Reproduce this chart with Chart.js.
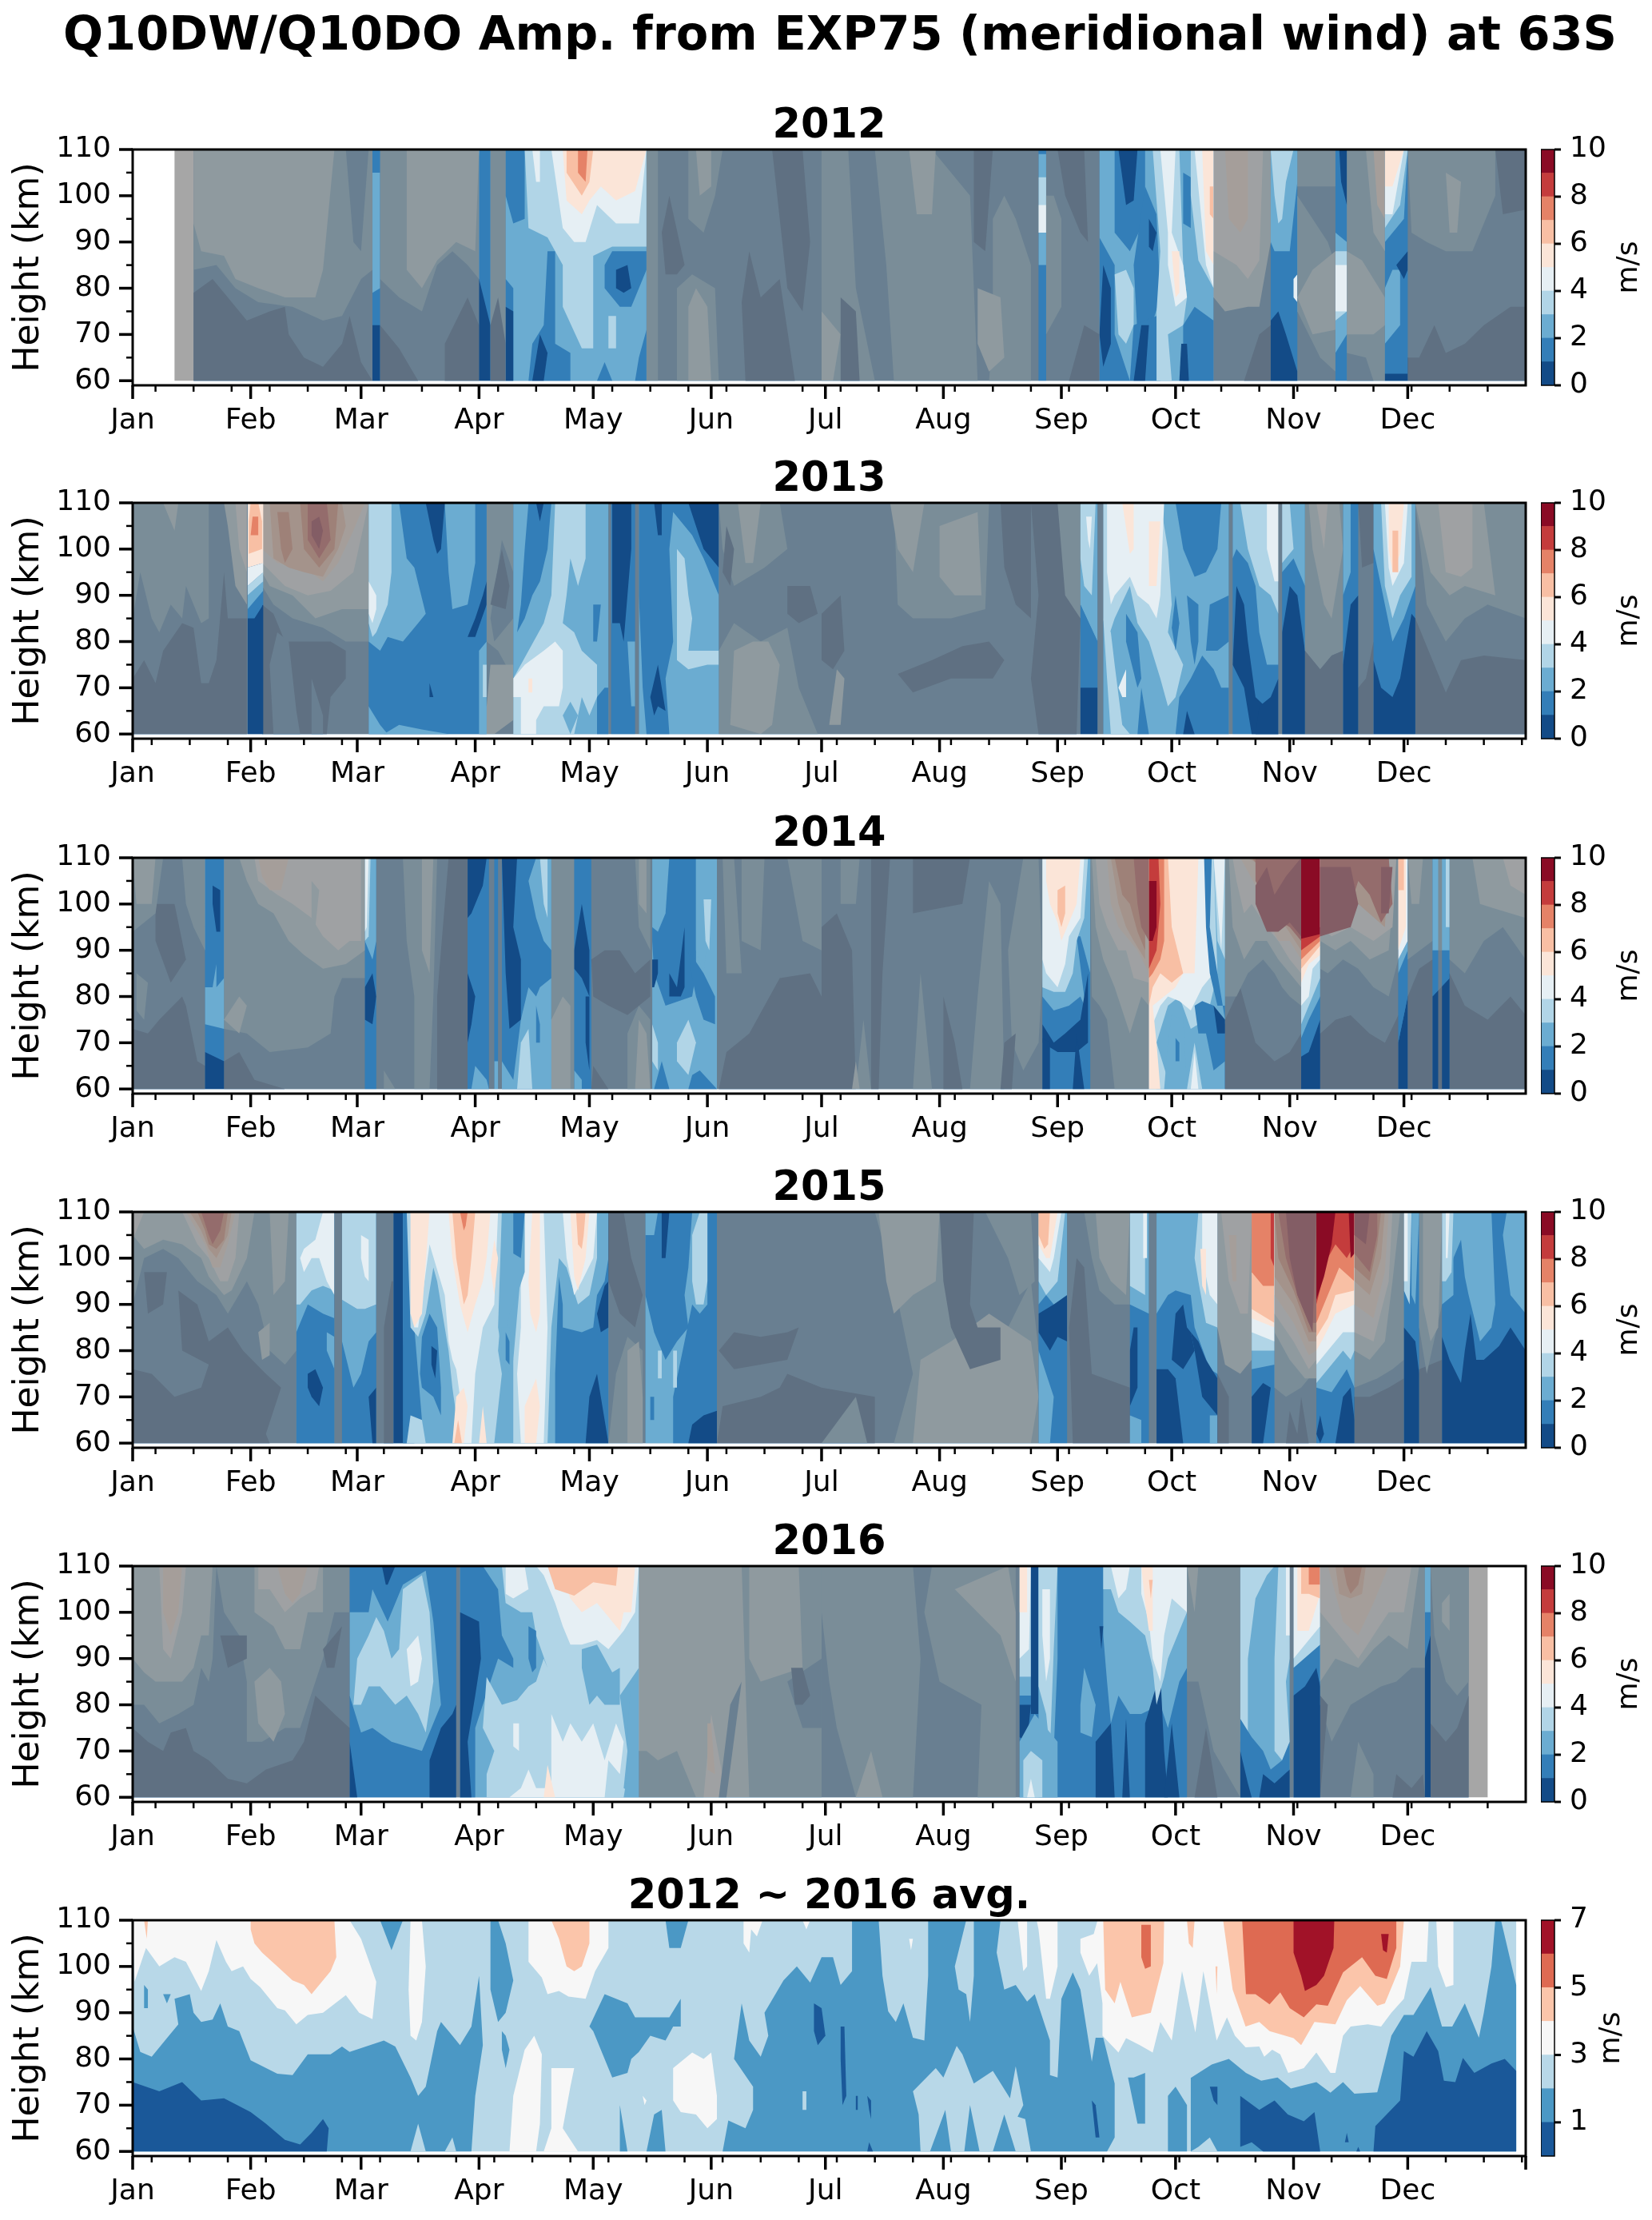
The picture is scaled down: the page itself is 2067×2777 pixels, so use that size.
<!DOCTYPE html>
<html>
<head>
<meta charset="utf-8">
<title>Q10DW/Q10DO Amp.</title>
<script src="https://cdn.jsdelivr.net/npm/chart.js@4.4.1/dist/chart.umd.min.js"></script>
<style>
    html, body { margin: 0; padding: 0; background: #fff; }
    body { position: relative; width: 2067px; height: 2777px; overflow: hidden; }
    canvas { position: absolute; }
    #mainTitle { position: absolute; left: 0; top: 4px; width: 2102px; text-align: center; font: bold 59px "DejaVu Sans"; line-height: 76px; white-space: nowrap; }
</style>
</head>
<body>
<div id="mainTitle">Q10DW/Q10DO Amp. from EXP75 (meridional wind) at 63S</div>
<script>
/*
        Labels, ticks and colour levels
*/
const monthNames = ["Jan", "Feb", "Mar", "Apr", "May", "Jun", "Jul", "Aug", "Sep", "Oct", "Nov", "Dec"];
const monthDaysLeap = [0, 31, 60, 91, 121, 152, 182, 213, 244, 274, 305, 335];
const monthDaysNormal = [0, 31, 59, 90, 120, 151, 181, 212, 243, 273, 304, 334];
const heightTicks = [60, 70, 80, 90, 100, 110];
const heightMinor = [65, 75, 85, 95, 105];
const yearColors = ["#134b87", "#337eb8", "#6bacd1", "#b1d5e7", "#e6eff4", "#fbe5d8", "#f8bfa4", "#e58267", "#c43c3c", "#8a0b25"];
const avgColors = ["#1a5899", "#4b98c5", "#b8d8e8", "#f7f7f7", "#fbc5aa", "#de6a52", "#a11228"];
const yearBarTicks = [0, 2, 4, 6, 8, 10];
const avgBarTicks = [1, 3, 5, 7];

/*
        Filled contour regions: [level, day, km, day, km, ...], painted in order.
    Masks: [start day, end day] of the spans greyed out as not significant.
*/
const mask2012 = [[11,63],[65,91],[94,98],[135,238],[240,254],[284,299],[306,316],[319,329],[335,366]];
const field2012 = [
[1,16,60,16,110,366,110,366,60],
[2,16,110,16,84,22,85,27,80,33,77,42,76,50,73,55,74,60,82,63,84,63,110],
[1,56,110,62,110,60,88,58,90],
[3,16,110,16,94,18,88,24,87,27,82,33,80,40,78,48,78,50,84,53,110],
[0,16,60,16,79,21,82,25,78,30,73,36,75,40,76,41,70,45,65,50,63,55,68,57,74,60,64,63,60],
[2,65,110,65,82,70,78,76,75,80,85,84,88,88,85,91,82,91,110],
[3,72,110,72,84,76,80,80,86,85,90,90,88,91,110],
[0,65,60,65,72,70,67,75,60],
[0,82,60,82,68,88,78,91,72,91,60],
[1,63,60,63,110,65,110,65,60],
[2,63,105,65,105,65,80,63,79],
[0,63,60,63,72,65,72,65,60],
[0,91,60,91,82,94,72,94,60],
[2,94,110,98,110,98,60,94,60],
[0,94,60,94,72,96,78,98,68,98,60],
[2,98,60,98,110,135,110,135,60],
[1,98,110,103,110,103,95,100,94,98,100],
[1,98,60,98,82,100,80,100,60],
[0,98,60,98,76,100,75,100,60],
[1,104,60,105,68,108,72,109,88,111,88,111,68,115,66,115,60],
[0,105,60,107,70,109,66,108,60],
[3,103,110,104,93,109,91,113,85,113,76,118,67,121,67,121,87,126,89,135,89,135,110],
[4,110,110,113,93,116,90,119,90,122,98,127,94,133,94,135,110],
[4,105,110,107,110,107,103,106,103],
[5,113,110,114,99,118,96,120,99,123,102,127,99,132,101,135,110],
[6,114,110,114,105,118,100,120,103,121,110],
[7,117,110,117,105,119,103,119.5,110],
[1,124,85,126,88,135,88,135,84,131,76,128,76,124,80],
[0,127,84,130,85,131,80,129,79,127,80],
[3,125,74,127,74,127,67,125,67],
[1,122,60,124,64,126,60],
[1,132,60,133,65,135,71,135,60],
[2,135,110,138,110,138,60,135,60],
[0,141,100,145,85,143,83,140,83,139,92],
[2,143,60,143,80,147,83,153,80,154,60],
[3,146,60,146,76,148,80,151,76,152,60],
[2,146,110,146,95,150,92,153,100,155,110],
[3,148,110,149,100,152,102,152,110],
[0,161,60,160,77,162,88,165,78,170,82,174,60],
[0,168,110,176,110,178,90,176,75,172,80],
[2,181,110,188,110,190,80,195,60,181,60],
[2,195,110,210,110,220,100,222,60,200,60,198,85],
[2,226,95,229,100,232,95,236,85,236,60,225,60,226,70],
[3,204,110,211,110,210,96,206,96],
[3,222,80,228,78,229,65,225,62,222,68],
[3,181,60,184,60,186,70,181,75],
[0,221,110,226,110,224,88,221,90],
[0,186,78,190,75,191,60,186,60],
[1,238,60,238,110,240,110,240,60],
[2,238,109,240,109,240,85,238,85],
[3,238,104,240,104,240,92,238,92],
[4,238,98,240,98,240,92,238,92],
[0,243,110,250,110,251,90,249,92,245,100],
[0,246,60,250,72,254,70,254,60],
[2,240,70,244,76,244,95,242,100,240,100],
[2,254,60,254,110,284,110,284,60],
[1,258,110,266,110,266,95,262,88,258,92],
[0,259,110,264,110,263,99,261,98],
[1,254,60,254,91,258,85,258,70,262,60],
[0,254,70,255,85,257,80,257,68,255,63],
[3,258,83,261,84,263,80,263,72,261,68,259,70],
[1,263,85,266,102,269,96,270,78,267,70,264,70],
[0,267,95,269,92,268,88,267,89],
[1,262,60,263,72,269,74,270,60],
[0,263,60,265,72,267,72,266,60],
[3,268,110,275,110,276,85,277,78,276,72,272,70,273,60,269,60,269,75,270,88],
[4,270,110,274,110,273,92,276,85,277,78,274,76,272,85,272,92],
[5,273,88,275,88,275,79,274,78],
[1,276,105,278,104,278,93,276,94],
[3,278,110,284,110,284,80,280,86,278,100],
[4,279,110,284,110,284,80,282,85],
[5,281,110,284,110,284,85,282,88],
[6,283,102,284,102,284,95,283,96],
[1,276,60,276,72,279,76,284,73,284,60],
[0,275,60,275.5,68,277,68,277.5,60],
[3,284,110,299,110,299,90,296,76,293,76,287,75,284,78],
[4,284,110,297,110,296,86,293,82,290,85,284,88],
[5,287,110,293,110,293,95,291,92,288,95],
[0,292,60,296,70,299,72,299,60],
[1,299,60,299,110,306,110,306,60],
[2,299,110,306,110,306,103,304,88,300,88,299,90],
[3,299,110,305,110,303,103,302,95,301,94,300,100],
[4,305,82,306,83,306,77,305,78],
[0,299,60,299,73,301,75,303,70,306,62,306,60],
[2,306,75,312,65,316,62,316,85,314,90,306,100],
[2,306,110,316,110,316,102,306,102],
[3,306,78,310,84,316,88,316,71,310,70],
[3,319,88,323,86,328,78,326,72,319,70],
[2,319,60,319,110,329,110,329,60],
[3,319,70,319,88,323,86,329,78,329,72,326,70],
[1,319,60,319,66,324,65,326,60],
[3,324,110,329,110,329,88,326,92],
[5,326,110,329,110,329,95,327,98],
[1,316,60,316,110,319,110,319,60],
[0,317,110,319,110,319,98,317.5,103],
[2,316,92,319,90,319,70,316,66],
[3,316,88,319,88,319,75,316,73],
[4,316,85,319,85,319,75,316,75],
[1,329,60,329,110,335,110,335,60],
[2,329,110,335,110,334,95,329,90],
[3,329,110,335,110,333,98,329,93],
[4,329,110,334,110,331,96,329,96],
[5,329,110,334,110,331,102,329,102],
[2,329,80,331,84,333,84,333,72,329,68],
[0,332,85,335,88,335,84,334,82],
[0,329,61.5,335,61.5,335,60,329,60],
[0,335,60,335,65,338,65,342,72,345,66,350,68,355,72,362,76,366,76,366,60],
[0,358,110,366,110,366,97,360,96],
[2,335,110,358,110,358,100,352,88,345,88,340,90,336,92],
[3,345,105,349,103,348,92,346,92]
];

const mask2013 = [[0,30.2],[34.3,62],[93,100],[125,125.7],[132,133],[154,249],[253.5,255],[288,289],[301,302],[308,318],[322,326],[337,366]];
const field2013 = [
[1,0,60,0,110,366,110,366,60],
[0,0,60,0,72,3,76,6,71,8,78,13,84,16,83,18,71,20,71,22,76,24,95,25,85,30,85,30,60],
[2,0,110,0,85,2,95,5,85,7,82,10,88,13,85,14,92,18,84,20,85,20,110],
[3,8,110,12,110,11,104],
[3,24,110,30,110,30,88,27,92,25,105],
[4,27,110,30,110,30,95,28,100],
[0,34,60,34,88,37,86,40,80,46,80,52,80,56,78,56,72,52,68,51,60],
[1,37,60,36,75,38,82,41,80,43,65,44,60],
[1,47,60,47,72,50,64,50,60],
[2,34,92,37,88,42,85,50,83,56,80,62,80,62,110,34,110],
[3,34,95,36,92,42,90,48,85,55,87,62,87,62,110,34,110],
[4,34,97,40,92,46,90,52,91,58,95,62,110,34,110],
[5,34,100,38,97,45,96,50,93,54,97,58,104,61,110,34,110],
[6,36,110,37,98,41,96,45,95,50,94,54,100,56,105,55,110],
[7,38,108,41,108,42,100,40,97,39,100],
[7,44,110,54,110,53,100,49,96,45,100],
[8,46,110,51,110,52,102,49,98,46,102],
[9,47,106,49,107,50,104,49,100,47,103],
[0,30.2,60,30.2,85,32,85,34.3,88,34.3,60],
[1,30.2,85,34.3,88,34.3,91,30.2,87],
[2,30.2,87,34.3,91,34.3,93,30.2,90],
[3,30.2,90,34.3,93,34.3,95,30.2,92],
[4,30.2,92,34.3,95,34.3,97,30.2,96],
[5,30.2,96,34.3,97,34.3,110,30.2,110],
[6,30.5,99,34,100,34,106,33,110,31,110,30.5,106],
[7,31,103,33,103,33,107,31.5,107],
[1,62,60,62,110,93,110,93,60],
[2,62,60,62,66,65,62,67,60],
[2,66,60,70,62,76,61,83,60],
[2,62,110,70,110,72,98,74,96,77,86,75,84,71,80,67,81,65,78,62,80],
[2,82,110,90,110,90,97,88,88,84,87,83,95],
[2,91,60,91,78,93,80,93,60],
[3,62,110,68,110,68,95,67,88,64,82,63,81,62,84],
[4,62,93,64,90,64,87,63,84,62,86],
[0,77,110,82,110,81,100,80,99,79,102],
[0,88,81,90,85,92,90,93,93,93,88,90,81,89,81],
[0,78,71,79,68,78,68],
[3,92,75,93,75,93,68,92,68],
[2,93,110,100,110,100,72,96,78,93,80],
[1,94,85,97,102,100,95,100,85,95,80],
[0,94,88,97,100,99,92,98,87],
[3,93,66,94,75,100,75,100,63,95,60,93,60],
[2,100,60,100,110,125,110,125,60],
[1,104,110,110,110,109,100,107,93,105,90,103,85,101,82,102,88,103,100],
[0,106,110,108,110,107,106],
[3,111,110,119,110,119,98,117,92,115,98,114,90,113,84,116,82,118,78,122,75,122,68,120,64,118,68,116,60,100,60,100,72,104,78,108,84,110,90],
[4,100,72,103,75,108,78,111,80,113,78,113,70,112,66,108,66,106,63,106,60,102,60,102,68,100,68],
[5,104,72,105,72,105,69,104,69],
[2,113,64,115,67,117,64,115,60],
[1,122,60,122,68,124,70,125,70,125,60],
[1,121,88,123,88,122,80,121,80],
[1,125.7,60,125.7,110,132,110,132,60],
[0,126,110,131,110,131,100,129,80,128,84,126,84],
[2,130,80,132,80,132,66,131,66],
[2,133,60,133,110,154,110,154,60],
[1,133,110,154,110,154,90,150,98,147,103,142,108,141,100,142,80,140,72,141,60,135,60,134,70,133,90],
[0,146,110,154,110,154,96,150,100,148,105],
[0,137,110,139,110,139,103,138,103],
[0,136,68,138,75,140,65,138,66,137,64],
[3,143,100,145,98,146,90,147,85,146,78,150,78,154,78,154,75,151,75,146,74,143,76,143,88],
[2,154,60,154,78,158,84,165,80,172,83,175,70,180,60],
[3,157,62,158,78,163,80,167,80,170,75,168,62,165,60],
[2,154,110,170,110,172,100,166,96,158,92,155,100],
[3,159,110,165,110,163,97,161,97],
[0,172,92,178,92,180,86,175,84,172,86],
[0,156,105,158,100,157,92,155,95],
[0,181,86,186,90,187,78,184,74,181,76],
[0,201,73,210,76,218,79,225,80,229,76,226,72,215,72,205,69],
[0,236,110,248,110,249,85,248,60,238,60,236,72,238,90],
[0,228,110,236,110,236,85,232,88,229,96],
[2,200,110,225,110,224,87,215,85,205,85,201,88],
[3,212,105,222,108,223,90,216,90,212,94],
[3,199,110,208,110,205,95,201,100],
[3,183,62,186,62,187,72,185,74],
[2,243,110,249,110,249,85,245,90],
[2,249,110,253.5,110,253.5,80,249,88],
[3,249,110,253,110,252,90,250,92,249,98],
[4,250.5,107,252,107,251.5,100,251,102],
[1,249,88,253.5,80,253.5,70,249,70],
[0,249,60,249,70,253.5,70,253.5,60],
[2,255,60,255,110,288,110,288,60],
[3,255,110,270,110,272,100,273,88,272,82,276,75,274,68,272,66,270,72,267,80,264,84,262,92,258,85,256,80,255,85],
[3,255,85,257,82,258,75,260,62,262,60,257,60,256,72],
[4,256,110,271,110,270,90,269,85,267,88,264,90,262,94,258,90,257,88,256,95],
[5,260,110,263,110,263,100,262,99],
[5,267,106,270,106,269,92,267,92],
[4,259,70,261,74,261,68,260,68],
[1,274,110,286,110,285,100,282,95,279,94,276,100],
[1,273,83,274,90,275,84,274,78],
[1,277,90,280,88,280,80,279,75,278,80],
[1,282,78,283,88,288,90,288,80,285,78],
[1,261,86,264,82,265,72,264,70,261,80],
[1,264,60,265,70,267,60],
[1,274,60,275,68,278,72,281,77,284,74,286,70,288,70,288,60],
[0,276,60,277,65,279,60],
[1,289,60,289,110,301,110,301,60],
[2,289,110,301,110,301,75,298,75,296,82,295,92,293,97,290,100,289,98],
[3,291,110,301,110,301,86,299,90,296,92,293,100],
[4,298,110,301,110,301,93,300,93,298,100],
[0,290,92,292,88,293,80,295,68,300,64,301,60,294,60,292,70,289,75],
[0,295,60,296,66,299,68,301,72,301,60],
[1,302,60,302,95,305,98,308,92,308,60],
[0,302,60,302,82,304,92,306,90,308,78,308,60],
[2,302,110,308,110,308,92,305,98,302,95],
[3,302,110,304,110,305,100,302,97],
[2,308,110,318,110,318,78,315,77,312,74,308,78],
[0,308,60,308,78,312,74,315,77,318,78,318,60],
[3,309,110,317,110,318,100,315,85,313,88,310,100],
[4,311,110,314,110,313,100],
[1,318,60,318,110,322,110,322,60],
[0,318,60,318,75,320,88,322,90,322,60],
[2,318,90,320,95,320,110,318,110],
[0,322,60,322,70,324,72,326,80,326,60],
[0,322,110,326,110,326,97,323,96],
[1,326,60,326,110,337,110,337,60],
[0,326,60,326,76,328,70,331,68,333,72,336,86,337,85,337,60],
[2,326,110,337,110,337,92,334,85,331,80,329,88,327,96,326,100],
[3,328,110,336,110,336,94,333,90,331,85,329,92],
[4,329,110,335,110,334,97,331,92,330,96],
[5,330,110,334,110,333,99,331,95,330,100],
[6,331,104,332.5,104,332.5,95,331,95],
[0,337,60,337,85,341,77,345,69,349,76,355,77,366,76,366,60],
[2,337,110,366,110,366,85,356,88,350,85,345,80,340,88],
[3,337,110,355,110,358,90,350,92,346,90,341,95],
[4,343,110,352,110,352,96,349,94,345,95]
];

const mask2014 = [[0,19],[24,61],[64,88],[93.6,95],[96,97],[110,116],[120.5,136.5],[153.5,239],[251.6,267],[287,307],[312,332.5],[335,341.5],[343,344],[346,366]];
const field2014 = [
[1,0,60,0,110,366,110,366,60],
[0,0,60,0,73,4,72,7,75,13,80,14,78,17,66,19,65,19,60],
[0,6,100,11,100,14,88,10,83,6,92],
[2,0,110,8,110,6,98,0,94],
[3,0,110,6,110,5,100,1,100],
[2,13,110,19,110,19,90,16,95,14,100],
[2,1,85,4,83,3,75,1,77],
[2,19,82,21,82,22,87,22,82,24,84,24,73,19,74],
[0,19,60,19,68,24,66,24,60],
[0,21,104,23,103,23,94,22,94,21,100],
[2,24,73,30,72,36,68,46,69,52,72,53,80,55,84,61,84,61,110,24,110],
[3,24,75,28,72,30,78,28,80],
[3,28,110,61,110,61,90,56,87,50,86,45,89,41,92,37,98,33,100,30,105],
[4,32,110,60,110,60,92,57,92,54,90,50,93,47,97,42,100,38,102,33,105],
[5,33,110,41,110,39,103,36,103,34,106],
[3,47,105,49,103,48,95,47,97],
[0,24,60,24,66,28,68,32,62,40,60],
[1,61,60,61,110,64,110,64,60],
[0,61,75,63,74,64,80,63,85,61,82],
[2,61,110,64,110,64,92,63,88,61,92],
[3,61,110,62.5,110,62,93,61,92],
[4,61,110,62,110,61.5,95,61,94],
[0,80,60,80,80,83,110,88,110,88,60],
[2,66,60,66,64,69,60],
[2,71,110,80,110,79,80,78,60,74,60,74,80,72,92],
[3,76,110,79,110,78,85,76,90],
[1,88,60,88,110,93.6,110,93.6,60],
[0,88,110,93,110,92,104,91,102,89,98,88,97],
[0,88,85,90,80,89,74,88,70],
[2,89,60,90,65,93,62,93.6,60],
[2,95,60,95,66,96,66,96,60],
[1,97,60,97,110,110,110,110,60],
[0,97,110,101,110,100,95,102,88,102,75,99,73,98,85],
[2,97,60,97,66,100,62,102,75,104,82,106,80,107,82,110,84,110,60],
[3,101,60,102,70,104,73,105,60],
[2,104,105,106,110,110,110,110,90,108,92,106,97],
[3,107,110,109,110,109,97,108,100],
[1,106,78,107,74,107,70,106,70],
[2,110,60,110,110,116,110,116,60],
[3,110,75,113,80,115,78,115,60,110,60],
[1,116,60,116,110,120.5,110,120.5,60],
[0,116,90,118,100,120,90,120,80,118,84,116,86],
[0,119,80,120,80,120,64,119,70],
[2,116,60,116,64,118,62,118,60],
[2,130,60,130,72,133,78,136,75,136,60],
[3,132,60,133,75,135,72,136,60],
[2,132,110,136,110,136,90,133,95],
[3,133,110,135,110,135,98,133,100],
[0,120.5,88,124,90,128,90,132,85,136,88,136,80,130,76,125,78,121,80],
[0,120.5,60,121,65,125,60],
[2,136.5,60,136.5,110,153.5,110,153.5,60],
[1,136.5,110,148,110,148,85,147,80,140,78,137,85,136.5,92],
[2,136.5,110,141,110,140,98,138,94,136.5,95],
[1,146,90,150,85,153,80,153,74,150,75,148,80,147,84],
[0,136.5,88,138,88,138,85,137,82,136.5,82],
[0,141,85,143,82,145,95,145,82,144,80,141,80],
[2,148,110,153.5,110,153.5,104,152,100,150,85,148,90],
[3,150,101,152,101,151.5,90,150.5,92],
[3,136.5,66,136.5,74,138,70,138,64],
[3,143,70,146,75,148,70,146,63,143,66],
[1,137,60,139,66,141,60],
[1,146,60,147,63,149,64,153.5,60],
[0,154,60,156,68,162,72,170,84,178,85,181,80,181,60],
[2,155,110,158,110,160,85,156,85],
[2,160,110,166,110,165,90,160,92],
[2,172,110,181,110,181,90,176,92],
[0,181,60,181,95,185,98,189,90,190,60],
[2,186,110,191,110,190,100,186,100],
[0,194,110,199,110,197,85,196,60,194,60],
[2,190,60,192,75,194,60],
[3,189,60,190,66,191,60],
[0,205,110,220,110,218,100,205,98],
[2,220,60,222,80,225,105,228,100,229,60],
[2,205,60,207,85,210,60],
[0,213,60,213,80,216,70,218,60],
[2,230,90,234,110,238,110,239,85,238,70,234,64,231,70],
[0,228,60,229,70,232,72,231,60],
[1,239,60,239,110,251.6,110,251.6,60],
[2,239,110,251.6,110,251.6,75,249,80,246,78,242,77,239,80],
[1,248,93,250,80,251,75,251.6,75,251.6,85,250,90,249,93],
[3,239,110,251,110,250,97,248,92,247,85,245,81,242,81,239,82],
[4,239,110,250,110,249,97,246,93,245,87,243,82,240,85,239,88],
[5,240,110,249,110,248,100,246,96,244,92,243,96,241,100,240,105],
[6,243,103,245,104,245,98,244,95,243,98],
[0,239,74,242,70,245,72,249,75,251,85,251,70,248,68,243,68,239,70],
[0,239,60,239,71,241,70,241,60],
[0,247,60,248,72,250,60],
[2,251.6,110,267,110,267,60,258,60,256,75,254,78,252,80],
[3,252,110,267,110,267,78,265,80,262,72,258,82,255,88,253,95],
[4,253,110,267,110,267,83,263,84,261,90,259,90,256,95,254,100],
[5,256,110,267,110,267,85,264,90,262,92,259,95,257,100],
[6,257,110,266,110,266,88,263,92,261,95,259,100],
[7,258,110,266,110,266,90,264,94,262,100,260,102],
[8,263,110,267,110,267,92,265,95,264,100],
[2,267,60,267,110,287,110,287,60],
[3,267,60,267,110,284,110,285,85,283,78,280,74,278,73,275,80,272,78,269,70,272,62,272,60],
[3,277,60,279,70,281,60],
[4,278,60,279,68,280,60],
[4,267,60,267,110,283,110,283,95,284,85,281,82,278,77,275,79,272,80,270,78,268,74,269,60],
[5,267,60,270,60,269,70,268,78,271,80,274,82,276,85,279,85,280,110,267,110],
[6,267,110,272,110,273,95,276,85,273,83,270,85,268,82,267,78],
[7,267,110,271,110,271,92,270,88,268,85,267,84],
[8,267,110,269.5,110,270,100,269,90,268,88,267,86],
[9,267,105,269,105,269,95,268,92,267,92],
[1,281.5,110,283.5,110,283,95,285,85,287,75,287,78,285,78,283,85,282,95],
[3,284,110,287,110,287,88,285,92],
[4,284,110,287,110,286,90,285,100],
[2,271,60,272,70,273,76,276,75,277,60],
[1,274,71,275,70,275,66,274,66],
[1,279,78,281,79,284,78,287,74,287,66,284,64,282,72,280,72],
[0,284,78,287,75,287,72,285,72],
[0,287,60,287,75,291,82,295,70,300,66,304,68,307,72,307,60],
[2,287,110,307,110,307,78,304,80,302,82,300,85,297,88,293,85,290,80,287,80],
[3,288,110,307,110,307,82,304,85,301,88,298,92,295,92,292,88,289,95],
[4,289,110,307,110,307,85,304,88,301,92,298,95,294,100,292,98,290,105],
[5,291,110,307,110,307,88,304,92,301,92,298,97,295,104,293,107],
[6,293,110,307,110,307,90,303,95,301,96,299,100,297,108],
[7,294,110,307,110,307,92,304,96,301,98,299,102,297,107],
[8,295,110,307,110,307,92,304,95,300,97,295,105],
[9,295,104,298,108,300,102,303,106,307,110,307,93,304,96,301,94,298,94,295,100],
[1,307,60,312,60,312,110,307,110],
[0,307,60,307,67,309,68,312,75,312,60],
[2,307,71,309,75,312,80,312,110,307,110],
[3,307,74,310,80,312,84,312,110,307,110],
[4,307,78,309,80,310,86,312,88,312,110,307,110],
[5,307,83,309,87,312,89,312,110,307,110],
[6,307,86,312,91,312,110,307,110],
[7,307,88,312,92,312,110,307,110],
[8,307,90,312,93,312,110,307,110],
[9,307,92.5,312,93.5,312,110,307,110],
[0,312,60,312,72,316,75,320,76,325,72,329,70,332.5,76,332.5,60],
[1,312,72,312,80,316,85,320,85,325,80,330,75,332.5,82,332.5,76,329,70,325,72,320,76,316,75],
[2,312,110,332.5,110,332.5,88,330,80,326,82,322,86,318,88,314,85,312,86],
[3,312,110,332,110,330,90,325,88,320,92,316,90,312,92],
[4,312,110,332,110,331,95,326,92,320,95,315,93,312,95],
[6,312,110,330,110,329,95,322,100,318,100,312,95],
[8,312,110,330,110,331,100,328,96,325,102,322,105,318,95,312,93],
[9,312,108,320,108,322,100,320,95,316,94,312,93],
[9,328,108,331,108,330,98,328,98],
[0,332.5,60,332.5,70,335,80,335,60],
[1,332.5,70,335,80,335,90,332.5,85],
[2,332.5,85,335,90,335,92,332.5,88],
[4,332.5,88,335,92,335,110,332.5,110],
[5,332.5,90,334.5,95,334.5,110,332.5,110],
[6,332.5,103,334,103,334,110,332.5,110],
[0,335,60,335,80,338,86,341.5,88,341.5,60],
[2,335,110,341.5,110,341.5,92,335,88],
[3,335,110,339,110,338,100,336,100],
[0,341.5,60,346,60,346,84,341.5,80],
[1,341.5,80,346,84,346,90,341.5,90],
[2,341.5,90,346,90,346,110,341.5,110],
[3,345,110,346,110,346,95,345,95],
[0,346,60,346,85,350,78,356,75,362,80,366,76,366,60],
[2,346,110,366,110,366,88,360,95,355,92,350,85,346,88],
[3,352,110,366,110,366,97,358,99,354,100],
[4,360,110,366,110,366,102,362,104]
];

const mask2015 = [[0,43],[53,55],[64,68.5],[125,134.7],[153.5,238],[245.5,262],[267,269],[285,294],[300,311],[321,334],[338,344]];
const field2015 = [
[1,0,60,0,110,366,110,366,60],
[0,0,60,0,76,5,75,11,70,18,72,20,77,13,80,12,93,17,90,20,82,25,85,29,80,35,75,39,72,35,62,36,60],
[0,3,97,9,97,8,90,4,88],
[2,0,110,43,110,43,80,40,77,36,80,33,90,30,95,25,88,22,92,17,95,12,100,8,102,3,100,0,90],
[3,0,110,32,110,30,100,26,93,24,92,20,96,18,100,13,103,8,104,3,102,0,105],
[4,13,110,28,110,27,100,25,95,23,95,20,100,17,103],
[5,14,110,27,110,25,103,23,98,21,98,19,103],
[6,15,110,26,110,25,105,22,100,20,102,18,106],
[7,17,110,25,110,24,104,22,102,20,103,19,106],
[8,18,110,24,110,23,106,21,103,20,105],
[4,0,110,3,110,0,104],
[3,36,110,41,110,40,95,37,92],
[3,33,84,36,86,36,79,34,78],
[2,43,60,43,110,53,110,53,60],
[3,43,110,53,110,53,93,50,94,47,93,44,90,43,90],
[4,50,110,53,110,53,92,51,95,49,100,47,100,45,97,44,100,45,102,48,104],
[1,43,76,43,84,46,90,50,88,53,87,53,60,43,60],
[0,46,75,48,76,50,72,49,68,47,70,46,72],
[2,51,84,53,83,53,76,52,78,51,80],
[1,53,60,53,110,55,110,55,60],
[1,55,60,55,110,64,110,64,60],
[2,55,91,57,90,59,89,61,89,64,90,64,84,62,82,60,75,58,72,55,82],
[3,55,110,64,110,64,90,61,89,59,89,57,90,55,91],
[4,60,105,62,104,62,95,61,96,60,100],
[0,62,70,64,72,64,60,63,60],
[1,64,60,64,110,68.5,110,68.5,60],
[0,66,60,66,85,68,95,68.5,95,68.5,60],
[2,68.5,60,68.5,110,125,110,125,60],
[0,68.5,110,71,110,71,85,72,60,68.5,60],
[1,71,110,73,110,74,85,76,65,74,60,71,60],
[3,72,110,97,110,97,90,96,80,97,75,95,60,86,60,84,72,83,80,82,85,80,95,79,98,77,88,75,83,73,85],
[3,101,110,122,110,122,100,120,92,117,90,114,98,112,100,110,85,109,60,100,60,100,78,102,97],
[3,72,60,73,66,76,65,77,60],
[1,75.5,75,76,83,78,88,80,85,81,72,81,66,79,70,76,72],
[0,78.5,81,80,80,79.5,74,78.5,77],
[4,73,110,96,110,95,90,92,85,90,75,89,60,85,60,86,70,85,76,84,78,83,82,82,92,78,103,75,85,74,85],
[4,102,110,108,110,109,85,108,60,102,60,101,75,102,85],
[4,113,110,122,110,121,100,118,95,116,92,114,100],
[5,73,110,78,110,76,88,74,85,73,88],
[5,83,110,94,110,93,100,92,95,90,90,88,84,86,90,84,100],
[5,94,98,95,104,96,100,95,92],
[6,84,110,90,110,89,100,88,92,87,90,86,95,85,100],
[7,86,110,88,110,87.5,107,87,106],
[5,105,110,107,110,107,88,106,84,104.5,88,104,95],
[5,103,60,103,68,106,74,107,68,106,60],
[5,84,60,85,70,87,72,88,68,87,60],
[6,84.5,60,85.5,65,86.5,60],
[5,91,60,92,68,93,60],
[5,115,110,120,110,119,100,117,93,116,96],
[6,116.5,110,119,110,118.5,105,118,102,117,103],
[2,97,110,103,110,103,97,101,92,99,88,97,80,96,85],
[1,100,110,103,110,102,100,100,101],
[2,97,85,99,85,100,78,99,75,97,78],
[1,98,84,99,82,99,77,98,78],
[1,111,75,112,96,113,90,113,85,118,84,121,85,122,92,124,95,125,100,125,60,111,60],
[0,122,88,124,94,125,95,125,85,123,84],
[0,119,60,120,70,122,75,124,65,125,60],
[0,125,110,129,110,131,100,134,92,132,85,128,88,125,95],
[2,127,75,130,83,134,80,134,60,125,60],
[3,130,60,130,80,133,82,134,70,134,60],
[2,134.7,60,134.7,110,153.5,110,153.5,60],
[1,134.7,105,137,105,138,110,147,110,146,98,145,92,146,85,143,82,140,78,137,84,134.7,92,134.7,100],
[1,142,60,142,70,145,82,147,90,149,88,151,90,151,110,153.5,110,153.5,60],
[3,147,105,149,110,151,110,151,95,150,90,148,90,147,95],
[0,146,60,147,64,150,66,153.5,67,153.5,60],
[3,138,80,139,80,139,74,138,74],
[3,142,80,143,80,143,72,142,72],
[1,136,70,137,70,137,65,136,65],
[0,139,110,141,110,140,100,139,100],
[0,153.5,60,155,68,165,70,170,72,172,75,181,72,195,70,195,60],
[0,154,80,158,76,165,77,172,78,175,85,172,84,165,83,158,84],
[2,195,110,213,110,215,95,216,85,230,85,236,95,238,80,238,60,200,60,205,75,200,95],
[3,205,60,207,78,215,82,225,88,236,82,238,70,236,60],
[3,196,110,212,110,211,95,205,92,200,88,198,95],
[0,212,110,221,110,220,90,222,85,228,85,228,78,220,76,215,85,213,95],
[2,224,110,236,110,237,95,233,92,230,100],
[2,181,60,190,70,193,60],
[1,238,60,238,110,245.5,110,245.5,60],
[2,238,60,238,80,240,75,242,70,241,60],
[2,238,110,245.5,110,245.5,91,242,90,240,92,238,90],
[3,238,110,245,110,243,95,240,92,238,95],
[4,238,110,244,110,242,100,241,97,238,100],
[5,238,110,243,110,241,100,240,100,238,103],
[6,238,110,241,110,240.5,103,239.5,102,238,105],
[0,238,88,242,90,245.5,92,245.5,82,243,83,241,80,238,84],
[0,246,85,248,100,250,98,252,75,262,72,262,60,247,60],
[2,250,110,262,110,262,90,258,90,254,93,252,100],
[3,253,110,262,110,261,92,257,95,254,100],
[1,262,60,262,110,267,110,267,60],
[2,262,110,267,110,267,88,262,90],
[3,262,110,266,110,266,92,262,94],
[4,265.5,110,266.5,110,266.5,100,265.5,100],
[0,262,68,264,72,264,85,263,85,262,80],
[2,262,60,262,66,265,65,265,60],
[2,269,60,269,110,285,110,285,60],
[1,269,60,269,88,272,92,274,93,278,92,279,85,283,76,285,75,285,60],
[0,269,60,269,76,272,76,274,74,276,60],
[0,273,78,274,88,276,90,277,85,278,84,279,80,276,76],
[0,278,84,280,82,282,78,285,74,285,66,281,70,280,75,279,80],
[3,280,110,285,110,285,85,282,86,280,95,279,100],
[4,281,110,285,110,285,90,283,92,281,100],
[5,280.5,102,282,102,282,92,281,94],
[2,283,60,283,66,285,66,285,60],
[3,285,110,294,110,294,78,291,75,287,77,285,85],
[4,286,110,294,110,293,88,291,88,288,95],
[5,288,105,290,105,290,95,289,95],
[0,285,60,288,60,288,70,285,75],
[1,294,60,294,110,300,110,300,60],
[0,294,60,294,70,297,73,299,72,297,60],
[2,294,76,300,77,300,110,294,110],
[3,294,80,300,80,300,110,294,110],
[4,294,84,300,82,300,110,294,110],
[5,294,87,300,85,300,110,294,110],
[6,294,89,300,86,300,110,294,110],
[7,294,97,297,94,300,94,300,110,294,110],
[8,299,110,300,110,300,98,299,100],
[2,300,72,303,70,307,72,311,76,311,110,300,110],
[3,300,84,304,78,308,74,311,74,311,110,300,110],
[4,300,88,305,82,309,76,311,78,311,110,300,110],
[5,300,92,305,86,309,79,311,80,311,110,300,110],
[6,300,96,305,90,309,82,311,82,311,110,300,110],
[7,301,100,305,93,309,84,311,84,311,110,300,110],
[8,301,110,303,100,306,92,309,86,311,86,311,110],
[9,303,110,311,110,310,84,308,88,306,92,304,100],
[0,303,60,304,67,306,62,307,70,309,60],
[1,311,60,321,60,321,110,311,110],
[0,316,60,318,70,320,72,321,65,321,60],
[0,311,62,312,66,313,62,312,60],
[2,311,72,315,71,319,76,321,72,321,110,311,110],
[3,311,73,314,76,318,80,320,78,321,80,321,110,311,110],
[4,311,77,314,80,318,84,321,84,321,110,311,110],
[5,311,80,313,83,316,88,321,90,321,110,311,110],
[6,311,83,314,87,316,92,321,93,321,110,311,110],
[7,311,86,314,92,317,98,321,95,321,110,311,110],
[8,311,90,314,100,316,103,319,100,321,103,321,110,311,110],
[9,311,91,313,96,315,103,316,110,311,110],
[9,319.5,110,321,110,321,101,320,100],
[0,321,60,321,70,325,70,330,72,334,74,334,60],
[2,321,72,327,74,331,76,334,78,334,110,321,110],
[3,321,80,325,78,329,82,331,95,333,110,321,110],
[4,321,84,326,82,330,95,331,110,321,110],
[5,321,90,326,87,329,97,330,110,321,110],
[6,321,95,325,92,328,100,329,110,321,110],
[7,321,98,325,95,327,103,328,110,321,110],
[8,321,101,325,97,327,105,327,110,321,110],
[9,321,105,324,103,325,110,321,110],
[1,334,60,334,110,338,110,338,60],
[0,334,60,334,85,337,82,338,75,338,60],
[3,334,110,336,110,335.5,90,334,93],
[2,336,110,338,110,337,90,336,92],
[4,334,110,335,110,335,95,334,95],
[0,338,60,338,76,344,78,344,60],
[2,338,110,344,110,344,90,340,75,338,85],
[3,339,110,344,110,343,85,341,82,339,90],
[1,344,60,344,110,366,110,366,60],
[0,344,60,344,83,346,78,349,73,350,80,351.5,88,353,78,355,78,359,81,362,85,366,80,366,60],
[2,346,110,357,110,358,90,357,85,354,82,351,92,350,96,349,104,347,100,346,96],
[2,361,110,366,110,366,88,362,92,360,105],
[2,344,110,347,110,347,92,344,90],
[3,344,110,347,110,346.5,97,345,95,344,95],
[4,345,110,346,110,345.5,100,345,100]
];

const mask2016 = [[0,57],[85,86],[133,233],[277,291],[304,305],[312,339.5],[341,356]];
const field2016 = [
[1,0,60,0,110,351,110,351,60],
[0,0,60,0,75,4,72,8,70,10,74,14,75,16,70,20,68,25,64,30,63,35,66,42,68,45,72,48,82,53,78,57,75,57,60],
[2,0,110,22,110,21,90,20,85,18,88,16,80,12,78,7,76,3,80,0,80],
[2,22,110,57,110,57,100,53,100,50,90,44,75,40,75,34,72,30,72,30,85,28,95,24,100],
[3,2,110,21,110,20,95,18,95,16,88,13,85,10,85,6,85,3,87,0,90,0,110],
[3,32,110,50,110,50,100,46,100,44,92,40,92,37,97,32,100],
[3,32,85,36,88,39,85,40,78,37,72,33,76],
[4,7,110,14,110,13,100,10,90,8,92],
[4,33,110,49,110,48,105,44,103,40,100,36,105,33,105],
[5,8,110,13,110,12,100,10,95,8,100],
[5,38,110,46,110,44,104,42,102,40,104],
[0,23,95,30,95,30,90,25,88],
[0,50,92,55,97,53,88,51,88],
[1,57,60,57,110,85,110,85,60],
[0,57,60,57,72,58,66,59,60],
[0,65.5,110,69,110,67,106,66.5,106],
[0,78,60,78,68,81,75,84,78,85,80,85,60],
[2,57,100,62,100,63,105,67,98,71,106,77,109,79,98,81,80,76,70,72,71,68,72,63,75,60,74,57,82],
[3,58,80,59,90,62,95,64,99,66,96,68,90,70,92,71,105,76,108,78,100,79,85,77,74,75,78,72,82,69,80,65,84,62,84,60,80],
[4,72,92,75,95,76,90,75,85,73,84],
[2,86,60,86,110,133,110,133,60],
[1,86,110,92,110,96,105,97,95,100,90,100,88,96,90,94,85,90,75,90,60,86,60],
[0,86,60,86,100,91,98,91.5,90,90,82,88,72,89,60],
[3,97,110,133,110,133,88,128,82,130,70,129,62,133,60,93,60,93,65,95,70,92,75,93,86,97,80,101,81,104,84,106,85,108,90,109,88,106,95,105,100,102,100,98,102],
[2,118,88,118,92,122,93,126,87,128,88,128,80,124,80,122,82,120,80],
[2,129,60,133,60,133,85,131,85,130,75,130,65],
[4,99,60,102,62,104,66,106,62,110,62,110,78,113,72,115,76,118,72,121,76,124,68,127,76,129,72,128,65,125,68,124,60],
[5,108,60,109,67,111,60],
[4,98,110,103,110,104,105,100,103,98,104],
[4,106,110,133,110,132,100,129,96,125,92,122,94,118,93,115,93,113,97,111,102,108,108],
[5,110,110,132,110,131,100,129,100,128,96,124,100,122,102,118,100,115,103,113,108],
[6,109,110,111,105,116,103.6,121,106.5,127,105.7,127.5,110],
[1,104,97,106,96,106,88,105,87,104,90],
[4,100,76,101.5,76,101.5,70,100,71],
[2,133,60,133,110,181,110,181,60],
[3,133,110,160,110,162,60,148,60,143,70,138,68,135,70,133,70],
[4,150,60,152,78,156,60],
[5,151,76,152,76,153,65,151,66],
[1,154,60,157,80,160,85,156,60],
[3,162,110,175,110,176,88,165,85,162,90],
[1,172,85,181,90,181,75,176,75],
[0,173,88,176,88,178,82,176,80,174,80],
[2,181,110,205,110,207,90,205,60,190,60,185,75,183,85,181,100],
[2,210,110,232,110,232,60,222,60,223,80,212,85,208,100],
[3,190,60,194,70,197,60],
[3,216,105,228,95,232,85,232,100,230,110],
[1,233,60,233,110,277,110,277,60],
[3,233,110,236,110,236,86,233,86],
[4,233,110,236,110,235.5,92,233,90],
[5,233,110,235,110,235,100,233,100],
[2,233,86,236,86,236,82,233,82],
[0,233,73,235,72,236,80,233,80],
[0,236,110,238,110,238,78,236,78],
[2,238,110,243,110,243,90,242,70,243,60,238,60],
[3,238,110,243,110,242,92,241,70,240,78,238,84,238,100],
[4,239,105,241,105,241,90,240,85,239,95],
[2,233,60,233,72,237,78,243,72,243,60],
[3,234,60,234,68,236,70,239,68,239,60],
[4,235,60,236,64,237,60],
[2,249,80,250,88,253,80,252,73,249,74],
[2,255,110,277,110,277,88,275,85,272,75,270,80,265,78,262,78,259,82,257,76,256,85,255,95],
[0,253,60,253,72,257,76,258,60],
[0,260,60,261,77,262,60],
[0,266,60,266,76,270,87,271,70,272,60],
[0,271,60,273,76,275,60],
[3,255,110,277,110,277,100,272,90,271,86,269,80,268,88,266,95,262,98,259,100,257,105,255,105],
[4,257,110,262,110,261,105,259,103],
[4,265,110,277,110,277,100,273,103,271,95,270,85,268,90,267,98,265,104],
[5,265,110,268,110,268,96,267,96,266,102],
[6,267,107,268,107,267.5,103],
[0,254,97,255,97,254.5,92],
[2,277,110,291,110,291,60,284,70,280,85,277,85],
[3,277,110,280,110,279,100],
[0,279,60,282,75,285,60],
[2,291,60,291,110,304,110,304,60],
[3,291,110,300,110,298,108,295,103,293,90,293,72,291,72],
[3,301,110,304,110,304,90,303,85,304,72,302,68,300,70,300,85,300,90],
[4,303,110,304,110,304,95,303,95],
[1,291,60,291,77,294,73,297,70,299,66,302,68,304,72,304,60],
[0,291,60,291,70,293,63,294,60],
[0,296,60,297,65,300,63,304,66,304,60],
[1,305,60,305,110,312,110,312,60],
[0,305,60,305,82,308,84,311,88,312,84,312,60],
[3,305,88,312,93,312,110,305,110],
[4,305,90,309,94,312,97,312,110,305,110],
[5,306,96,309,96,312,104,312,110,306,110],
[6,307,104,309,104,312,103,312,110,307,110],
[7,309,106,312,106,312,110,309,110],
[2,312,110,339.5,110,339.5,88,336,88,332,85,328,84,320,80,315,72,312,80],
[3,312,110,338,110,335,92,330,95,326,92,322,88,316,90,312,85],
[4,312,110,336,110,334,100,330,100,322,90,316,96,312,100],
[5,314,110,330,110,326,102,322,95,318,98],
[6,316,110,324,110,323,104,320,103,317,104],
[7,318,110,323,110,322,106,320,104,319,106],
[2,320,60,322,72,326,65,326,60],
[0,312,82,314,80,312,60],
[0,331,60,332,65,336,62,339,65,339.5,60],
[0,339.5,60,341,60,341,95,339.5,90],
[2,339.5,110,341,110,341,100,339.5,100],
[0,341,60,341,76,345,72,348,75,351,82,351,60],
[2,341,110,351,110,351,85,348,82,345,85,342,95],
[3,344,102,346,104,346,96,344,98]
];

const maskAvg = [];
const fieldAvg = [
[2,0,60,0,110,363.5,110,363.5,60],
[1,0,60,0,87,2,81.5,5,80.5,9,84.5,12,87.5,11,93,15,94,16,90,18,88,21,88.5,23,92,25,87,28,86,31,79.7,38,76.8,42,76.5,46,81,52,81,55,82.7,57,81.5,66,84,69,82.7,73,76,75,72,77,74,80,86,81,88,84,85,86,83,89,87,91,98,92,83,90,72,89,60],
[2,73,60,75,66,77,60],
[2,82,60,84,63,85,60],
[1,3,96,4,95,4,91,3,91],
[1,8,94,10,94,9,92],
[0,0,60,0,75,7,73,13,75,18,71,24,71.5,31,68.5,35,66,40,62.5,44,61.5,47,64,50,67,51.5,65,51,60],
[1,65,110,71,110,68,103.5],
[1,94,110,94,95,96,88,98,90,100,97,98,105,96,110],
[1,97,86,98,85,99,82,98,78,97,82],
[1,120,87,124,94,130,92,132,89,141,89,144,93,144,87,142,87,140,84,136,85,133,81.5,131,80,130,77,126,76,123,82,121,86],
[1,128,60,128,70,129,65,130,60],
[1,135,60,137,68,139,69,140,60],
[1,140,110,146,110,144,104,141,104],
[1,155,60,156.5,66.7,161,65,163,69,163,74,158,80,160,92,162,84,165,80.5,167,85,166,90,171,97,174.5,100,178,96.5,181,102,184,102,186,96,189,99,189,110,228,110,227,103,229,95,232,96,235,92.4,237,94,241,84,241,76.5,243,76,244,93,247,98.7,249,95,252,79.4,253,84.6,255,84.6,258,74.7,258,63,256,60],
[2,196,110,209,110,209,98,208,84,205,84.6,202.5,92,200.5,88,198.5,90.3,197,98],
[2,216,100,217.5,105,219,110,221,110,221,98,220,88,219,94,217,95],
[2,205,73,211,78,213,76,216.5,82.8,218,81,221,74.7,226,77.4,230.5,71.5,232,78.4,234,70,232.5,67.5,234.5,67,236,60,232,60,229,68,226,60,222.5,60,220,70,218.5,60,215,60,213.5,69,209.5,60,207,60,206.5,68],
[2,176,73,177,73,177,69,176,69],
[0,179,92,181,91,182,85,180,83,179,86],
[0,186,87,187,87,187.5,72,186.5,70,186,80],
[0,190,72,190.5,72,190.5,69,190,69],
[0,193,72,194,71,194,67,193.5,69],
[0,193,60,193.5,62,194.5,60],
[0,252,71,253,70,254,63,253,63],
[3,232.5,110,235,110,235,100,234,99],
[3,237.5,110,243,110,243,100,241,93,240,93,238,108],
[3,204,106,205,106,204.5,103.5],
[1,261.5,76,263,76,266,77,266,66,264,66],
[1,272,60,272,72,274,74,277,70,277,60],
[1,278,75.9,283.5,78.8,288,80,292.5,77,296.5,75.3,300.8,76,304.3,73.6,311,75,314.7,72.7,318,75,321,72.5,327,72.8,330.7,85,334,89.5,336.5,89.5,341,95.5,344,87,346.7,87,350,92,353.7,84.6,355,90,357,100,358,110,359.5,110,363.5,96,363.5,60,278,60],
[2,278,60,280,61,283,63,285,60],
[0,283,74,285,74,285,70,284,71],
[0,291,61,291,72,296,69,300,71,303.5,68,307.7,66.5,310.5,68.5,312,60,297,60,294,62],
[0,318.5,62,319,64,319.5,62],
[0,321.5,60,322,61,322.5,60],
[0,326,60,326.5,65.5,333,71,334,81.7,336.5,80.5,340,86,343,81.7,344.5,75.3,347.5,75,349.5,80.2,352.5,77,357,79,360.5,80,363.5,77.4,363.5,60],
[3,0,110,0.5,96.7,3.5,104,7,100,11,102,14,101,18,94.7,20,99,22,105.7,24.5,101,26,99,29,100,31,97.3,33.5,95.5,38,91,40,90.5,43,87.5,46,89.5,50,90,56,93.8,59.5,90,63,88.6,64,96.7,60,106,57,110],
[3,73,110,76,110,77,100,76,88,74.5,84,73,85,72.5,95],
[3,104,110,104,101,107.5,97.6,109,94,112,94.7,114.5,93.5,119,93,121.5,99,125,104,125,110],
[3,99,60,100,72,103,82,105.5,85,107.5,81,107,66,106,60],
[3,108,60,110,65,110,78,116,78,115,74,113,65,117,60],
[3,142,78,147,81.4,150,80,152,81.4,153.5,72,153.5,67,151,65,148,68,144,68.5,142,71],
[3,134,72,135,71,134.5,70],
[3,160.5,110,160.5,105,162,103,162.5,108,164,106.5,165.5,110],
[3,176,110,178,110,177,108],
[3,249,106,252.5,107,253.5,110,340.5,110,340,101,336,101,334,93,330.7,90,328,87,324.5,87.5,320,87,318,85,316,77,314.7,77,311,81.4,307.7,78,303.6,77,301.5,81,299.4,82,297.3,80.5,296,82.7,292.4,82.5,289.6,85,287.5,89,284.8,84,281.3,99,279.2,85.7,275.7,99,273,84,270,88,268,81.4,264.6,83,261,84.5,259,81.4,254.8,85,254.8,92,253.4,100.7,251.3,98,249,103],
[3,342.5,110,347,110,347,96,345,95.5,343,100],
[4,3,110,4,110,3.7,106],
[4,31,110,53,110,53.5,102,52,99,50,97,47,94,45,96,42,97,38,100,34,103,32,105,31,108],
[4,110,110,120,110,120,105,118,100,116,99,114,100,112,106],
[4,255,110,255.5,95,258,92,259.5,96.7,262.5,89,267.5,90,270.8,100.7,271,110],
[4,277,110,279,110,278.5,104,277.5,105],
[4,284.5,100,285,100,284.8,94],
[4,286.5,110,289,95,292.4,87,296,88,298.7,86,305,84.5,307,83,310.5,88,316,87.5,319,92.7,322.5,95.8,327,91.5,329,92,333,100,334,110],
[5,265,109,267.5,109,267.5,100,266,99.5,265,102],
[5,291.5,110,292.5,94,295,94,298.7,91.8,301.5,94.4,304,91,307.7,89,311,91.8,314,91.5,318,98.7,323,102,326.5,98,329.5,97.3,332,104,332,110],
[6,305,110,315.7,110,315.5,104,313,98,311,96,308,94.7,307,98,305,103],
[6,328,107,330,107,329.5,103,328.5,103.5]
];

/*
        Tick marks and frame, drawn from the scales so they stay on the data.
*/
function axisMarks(xMajor, xMinor) {
    return {
        id: "axisMarks",
        afterDraw(chart) {
            const ctx = chart.ctx;
            const area = chart.chartArea;
            const x = chart.scales.x;
            const y = chart.scales.y;
            ctx.save();
            ctx.strokeStyle = "#000";
            const tick = (x0, y0, x1, y1, w) => {
                ctx.lineWidth = w;
                ctx.beginPath();
                ctx.moveTo(x0, y0);
                ctx.lineTo(x1, y1);
                ctx.stroke();
            };
            xMajor.forEach((v) => {
                const px = x.getPixelForValue(v);
                tick(px, area.bottom, px, area.bottom + 17, 3.5);
            });
            xMinor.forEach((v) => {
                const px = x.getPixelForValue(v);
                tick(px, area.bottom, px, area.bottom + 8, 2.5);
            });
            heightTicks.forEach((v) => {
                const py = y.getPixelForValue(v);
                tick(area.left - 17, py, area.left, py, 3.5);
            });
            heightMinor.forEach((v) => {
                const py = y.getPixelForValue(v);
                tick(area.left - 8, py, area.left, py, 2.5);
            });
            ctx.lineWidth = 3;
            ctx.strokeRect(area.left, area.top, area.right - area.left, area.bottom - area.top);
            ctx.restore();
        },
    };
}

function addCanvas(left, top, width, height) {
    const canvas = document.createElement("canvas");
    canvas.width = width;
    canvas.height = height;
    canvas.style.left = left + "px";
    canvas.style.top = top + "px";
    canvas.style.width = width + "px";
    canvas.style.height = height + "px";
    document.body.appendChild(canvas);
    return canvas.getContext("2d");
}

function polygonDataset(points, color, order) {
    const data = [];
    for (let i = 0; i < points.length; i += 2) {
        data.push({ x: points[i], y: points[i + 1] });
    }
    return {
        data: data,
        fill: "shape",
        backgroundColor: color,
        borderWidth: 0,
        pointRadius: 0,
        tension: 0,
        order: order,
    };
}

const titleHeight = 66;
const panelHeight = 295;
const axisHeight = 62;

function drawPanel(title, top, field, mask, colors, monthDays, xMinorStart, xEnd) {
    const datasets = [];
    const count = field.length + mask.length;
    field.forEach((poly, i) => {
        datasets.push(polygonDataset(poly.slice(1), colors[poly[0]], count - i));
    });
    mask.forEach((span, i) => {
        const points = [span[0], 60, span[0], 110, span[1], 110, span[1], 60];
        datasets.push(polygonDataset(points, "rgba(128,128,128,0.7)", mask.length - i));
    });

    const xMinor = [];
    for (let d = xMinorStart; d < 366; d += 10) {
        xMinor.push(d);
    }
    const xMajor = xEnd ? monthDays.concat([xEnd]) : monthDays;

    new Chart(addCanvas(0, top - titleHeight, 1912, titleHeight + panelHeight + axisHeight), {
        type: "line",
        data: { datasets: datasets },
        plugins: [axisMarks(xMajor, xMinor)],
        options: {
            responsive: false,
            animation: false,
            devicePixelRatio: 1,
            layout: { padding: { right: 3 } },
            plugins: {
                legend: { display: false },
                tooltip: { enabled: false },
                title: {
                    display: true,
                    text: title,
                    fullSize: false,
                    color: "#000",
                    font: { size: 51, weight: "bold", lineHeight: 1 },
                    padding: { top: 12, bottom: 3 },
                },
            },
            scales: {
                x: {
                    type: "linear",
                    min: 0,
                    max: 366,
                    afterFit: (scale) => { scale.height = axisHeight; },
                    afterBuildTicks: (scale) => { scale.ticks = monthDays.map((v) => ({ value: v })); },
                    border: { display: false },
                    grid: { display: false, drawTicks: false },
                    ticks: {
                        color: "#000",
                        font: { size: 36 },
                        padding: 23,
                        autoSkip: false,
                        maxRotation: 0,
                        callback: (v) => monthNames[monthDays.indexOf(v)],
                    },
                },
                y: {
                    type: "linear",
                    min: 59,
                    max: 110,
                    afterFit: (scale) => { scale.width = 166; },
                    afterBuildTicks: (scale) => { scale.ticks = heightTicks.map((v) => ({ value: v })); },
                    border: { display: false },
                    grid: { display: false, drawTicks: false },
                    title: {
                        display: true,
                        text: "Height (km)",
                        color: "#000",
                        font: { size: 44 },
                        padding: { top: 10, bottom: 0 },
                    },
                    ticks: { color: "#000", font: { size: 36 }, padding: 27 },
                },
            },
        },
    });
}

function drawColorbar(top, colors, tickValues, labelBaseline) {
    const datasets = colors.map((c, i) => ({
        data: [[i, i + 1]],
        backgroundColor: c,
        barPercentage: 1,
        categoryPercentage: 1,
        grouped: false,
    }));
    const barMarks = {
        id: "barMarks",
        afterDraw(chart) {
            const ctx = chart.ctx;
            const area = chart.chartArea;
            const y = chart.scales.y;
            ctx.save();
            ctx.strokeStyle = "#000";
            ctx.lineWidth = 3;
            tickValues.forEach((v) => {
                const py = y.getPixelForValue(v);
                ctx.beginPath();
                ctx.moveTo(area.right, py);
                ctx.lineTo(area.right + 8, py);
                ctx.stroke();
            });
            ctx.lineWidth = 1.5;
            ctx.strokeRect(area.left, area.top, area.right - area.left, area.bottom - area.top);
            ctx.translate(labelBaseline, (area.top + area.bottom) / 2);
            ctx.rotate(-Math.PI / 2);
            ctx.fillStyle = "#000";
            ctx.font = "36px 'DejaVu Sans'";
            ctx.textAlign = "center";
            ctx.textBaseline = "alphabetic";
            ctx.fillText("m/s", 0, 0);
            ctx.restore();
        },
    };
    new Chart(addCanvas(1928, top - titleHeight, 139, titleHeight + panelHeight + axisHeight), {
        type: "bar",
        data: { labels: [""], datasets: datasets },
        plugins: [barMarks],
        options: {
            responsive: false,
            animation: false,
            devicePixelRatio: 1,
            layout: { padding: { top: titleHeight, bottom: axisHeight } },
            plugins: { legend: { display: false }, tooltip: { enabled: false } },
            scales: {
                x: { display: false },
                y: {
                    position: "right",
                    min: 0,
                    max: colors.length,
                    afterFit: (scale) => { scale.width = 122; },
                    afterBuildTicks: (scale) => { scale.ticks = tickValues.map((v) => ({ value: v })); },
                    border: { display: false },
                    grid: { display: false, drawTicks: false },
                    ticks: { color: "#000", font: { size: 36 }, padding: 19 },
                },
            },
        },
    });
}

Chart.defaults.font.family = "'DejaVu Sans'";

drawPanel("2012", 187, field2012, mask2012, yearColors, monthDaysLeap, 6);
drawPanel("2013", 629, field2013, mask2013, yearColors, monthDaysNormal, 5);
drawPanel("2014", 1073, field2014, mask2014, yearColors, monthDaysNormal, 6);
drawPanel("2015", 1516, field2015, mask2015, yearColors, monthDaysNormal, 6);
drawPanel("2016", 1959, field2016, mask2016, yearColors, monthDaysLeap, 6);
drawPanel("2012 ~ 2016 avg.", 2402, fieldAvg, maskAvg, avgColors, monthDaysLeap, 5, 366);

drawColorbar(187, yearColors, yearBarTicks, 120);
drawColorbar(629, yearColors, yearBarTicks, 120);
drawColorbar(1073, yearColors, yearBarTicks, 120);
drawColorbar(1516, yearColors, yearBarTicks, 120);
drawColorbar(1959, yearColors, yearBarTicks, 120);
drawColorbar(2402, avgColors, avgBarTicks, 98);
</script>
</body>
</html>
